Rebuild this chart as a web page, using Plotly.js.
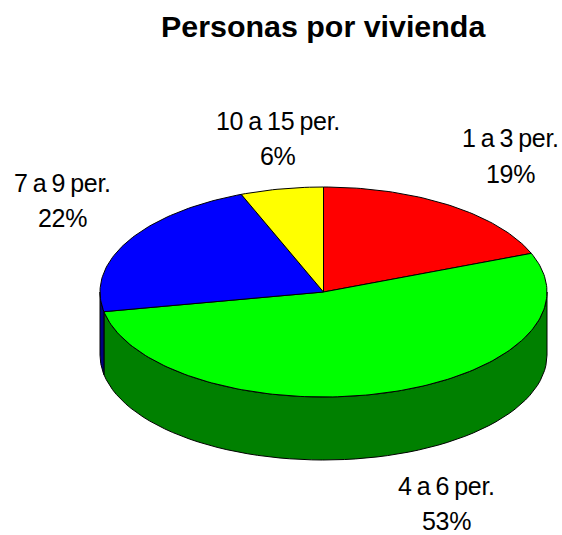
<!DOCTYPE html>
<html><head><meta charset="utf-8">
<script src="https://cdn.plot.ly/plotly-3.0.1.min.js"></script>
<style>html,body{margin:0;padding:0;background:#fff}#c{width:562px;height:535px}
.annotation-text{letter-spacing:-0.3px;word-spacing:-1.5px}</style>
</head><body><div id="c"></div>
<script>
const categories = ["1 a 3 per.", "4 a 6 per.", "7 a 9 per.", "10 a 15 per."];
const shares = [19, 53, 22, 6];
const topColors = ["#ff0000", "#00ff00", "#0000ff", "#ffff00"];
const sideColors = ["#800000", "#008000", "#000080", "#808000"];
const labelX = [510, 446, 62.5, 278];
const labelY1 = [138, 486, 183, 121];
const labelY2 = [174, 521, 218, 156];
const cx = 323.5, cy = 292, rx = 223.5, ry = 105, depth = 63;
const pt = (deg, dy) => [cx + rx * Math.sin(deg * Math.PI / 180), cy + dy - ry * Math.cos(deg * Math.PI / 180)];
const total = shares.reduce((a, b) => a + b, 0);
let start = 0;
const sides = [], tops = [];
shares.forEach((s, i) => {
  const end = start + s / total * 360;
  const a = Math.max(start, 90), b = Math.min(end, 270);
  if (b > a) {
    const xs = [], ys = [];
    for (let k = 0; k <= 60; k++) { const p = pt(a + (b - a) * k / 60, 0); xs.push(p[0]); ys.push(p[1]); }
    for (let k = 60; k >= 0; k--) { const p = pt(a + (b - a) * k / 60, depth); xs.push(p[0]); ys.push(p[1]); }
    xs.push(xs[0]); ys.push(ys[0]);
    sides.push({x: xs, y: ys, mode: "lines", fill: "toself", fillcolor: sideColors[i], line: {color: "#000", width: 1}, hoverinfo: "skip", showlegend: false});
  }
  const xs = [cx], ys = [cy];
  const n = Math.max(8, Math.round(s * 3));
  for (let k = 0; k <= n; k++) { const p = pt(start + (end - start) * k / n, 0); xs.push(p[0]); ys.push(p[1]); }
  xs.push(cx); ys.push(cy);
  tops.push({x: xs, y: ys, mode: "lines", fill: "toself", fillcolor: topColors[i], line: {color: "#000", width: 1}, name: categories[i], hoverinfo: "name", showlegend: false});
  start = end;
});
const labelFont = {family: "Liberation Sans, Arial, sans-serif", size: 25, color: "#000"};
const annotations = [];
categories.forEach((c, i) => {
  annotations.push({x: labelX[i], y: labelY1[i], xref: "x", yref: "y", showarrow: false, text: c, font: labelFont});
  annotations.push({x: labelX[i], y: labelY2[i], xref: "x", yref: "y", showarrow: false, text: shares[i] + "%", font: labelFont});
});
Plotly.newPlot("c", sides.concat(tops), {
  width: 562, height: 535, margin: {l: 0, r: 0, t: 0, b: 0},
  paper_bgcolor: "#fff", plot_bgcolor: "#fff", showlegend: false,
  title: {text: "<b>Personas por vivienda</b>", x: 0.575, xanchor: "center", y: 0.95, yanchor: "middle",
    font: {family: "Liberation Sans, Arial, sans-serif", size: 30.4, color: "#000"}},
  xaxis: {range: [0, 562], visible: false, fixedrange: true},
  yaxis: {range: [535, 0], visible: false, fixedrange: true},
  annotations
}, {displayModeBar: false, staticPlot: true});
</script></body></html>
